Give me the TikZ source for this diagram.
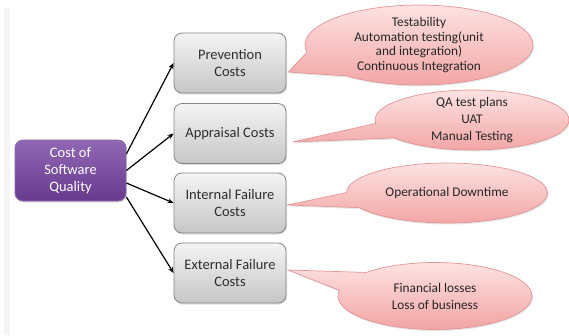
\documentclass[tikz,border=0pt]{standalone}
\usepackage{fontspec}
\setmainfont{Carlito}
\usetikzlibrary{shapes.callouts,shadows,calc,arrows.meta}
\definecolor{boxtop}{HTML}{F4F4F4}
\definecolor{boxbot}{HTML}{C6C6C6}
\definecolor{boxedge}{HTML}{858585}
\definecolor{boxtext}{HTML}{2E2E2E}
\definecolor{roottop}{HTML}{9068B4}
\definecolor{rootbot}{HTML}{67398E}
\definecolor{rootedge}{HTML}{8A68AA}
\definecolor{bubtop}{HTML}{FDE2E2}
\definecolor{bubbot}{HTML}{F2A2A2}
\definecolor{bubedge}{HTML}{E29595}
\definecolor{bubtext}{HTML}{262626}
\definecolor{strip}{HTML}{F5F5F5}
\pgfdeclarelayer{bg}
\pgfsetlayers{bg,main}
\begin{document}
\begin{tikzpicture}[x=1pt,y=-1pt,
  costbox/.style={rounded corners=8pt, minimum width=112pt, minimum height=60pt,
    draw=boxedge, line width=0.8pt, top color=boxtop, bottom color=boxbot,
    font=\fontsize{14.5}{17}\selectfont, text=boxtext, align=center, inner sep=0pt,
    drop shadow={opacity=0.25, shadow xshift=1pt, shadow yshift=-1.5pt}},
  rootbox/.style={costbox, minimum width=111pt, minimum height=61pt,
    draw=rootedge, top color=roottop, bottom color=rootbot, text=white},
  bubble/.style={ellipse callout, draw=bubedge, line width=0.7pt,
    top color=bubtop, bottom color=bubbot,
    font=\fontsize{13.3}{14.5}\selectfont, text=bubtext, align=center,
    inner xsep=0pt, inner ysep=-8pt, callout pointer arc=30,
    drop shadow={opacity=0.2, shadow xshift=1pt, shadow yshift=-1.5pt}},
  link/.style={-{Stealth[length=6pt,width=5pt]}, line width=1.2pt, black}]
\useasboundingbox (0,0) rectangle (569,335);
\fill[strip] (4,8) rectangle (10,335);

\node[rootbox] (q) at (70.5,170.5) {Cost of\\Software\\Quality};
\node[costbox] (p1) at (230,63) {Prevention\\Costs};
\node[costbox] (p2) at (230,133.5) {Appraisal Costs};
\node[costbox] (p3) at (230,203) {Internal Failure\\Costs};
\node[costbox] (p4) at (230,273) {External Failure\\Costs};

\begin{pgfonlayer}{bg}
\node[bubble, minimum width=228pt, minimum height=80pt, callout pointer arc=40,
  callout absolute pointer={($(p1.east)+(2,9)$)}] (c1) at (419,45)
  {Testability\\Automation testing(unit\\and integration)\\Continuous Integration};
\node[bubble, minimum width=194pt, minimum height=60pt, font=\fontsize{13.3}{17}\selectfont,
  callout absolute pointer={($(p2.east)+(6,8.5)$)}] (c2) at (472,120)
  {QA test plans\\UAT\\Manual Testing};
\node[bubble, minimum width=201pt, minimum height=60pt,
  callout absolute pointer={($(p3.east)+(1,2)$)}] (c3) at (447,193)
  {Operational Downtime};
\node[bubble, minimum width=194pt, minimum height=67pt, font=\fontsize{13.3}{17}\selectfont,
  callout pointer arc=35,
  callout absolute pointer={($(p4.east)+(2,-3)$)}] (c4) at (435,296)
  {Financial losses\\Loss of business};
\end{pgfonlayer}

\draw[link] ($(q.east)+(0,-16.5)$) -- (p1.west);
\draw[link] (q.east) -- (p2.west);
\draw[link] ($(q.east)+(0,12.5)$) -- (p3.west);
\draw[link] ($(q.east)+(0,26.5)$) -- (p4.west);
\end{tikzpicture}
\end{document}
